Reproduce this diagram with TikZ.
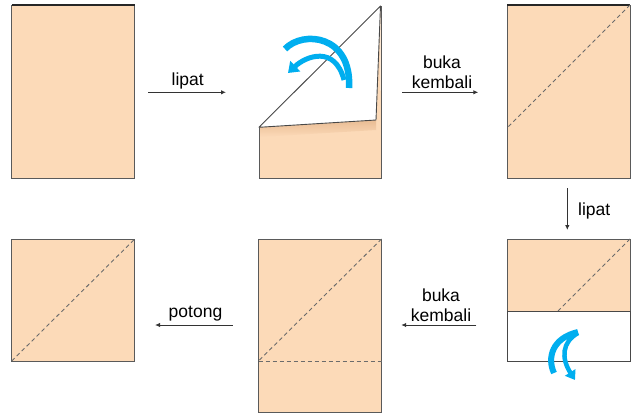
\documentclass[tikz,border=0pt]{standalone}
\usepackage{fontspec}
\setmainfont{Liberation Sans}
\usetikzlibrary{arrows.meta}
\definecolor{peach}{HTML}{FCDAB8}
\definecolor{edge}{HTML}{5A5A5A}
\definecolor{flow}{HTML}{00AEEF}
\definecolor{shadowc}{HTML}{E9BC94}
\definecolor{ink}{HTML}{333333}
\begin{document}
\begin{tikzpicture}[x=1pt,y=-1pt,
  paper/.style={draw=edge, fill=peach, line width=1pt, inner sep=0pt, outer sep=0pt, minimum width=123pt},
  tall/.style={minimum height=173pt},
  short/.style={minimum height=122pt},
  crease/.style={draw=edge!90, line width=0.9pt, dash pattern=on 4pt off 3pt},
  topedge/.style={draw=black!85, line width=1.3pt},
  stepline/.style={draw=ink, line width=1pt, -{Latex[length=5pt,width=4.5pt]}},
  lbl/.style={font=\fontsize{17.5}{20}\selectfont, anchor=base, inner sep=0pt, text=black},
  bluebody/.style={draw=flow, line cap=butt},
]
\useasboundingbox (0,0) rectangle (640,418);

% ---- top row ----
\node[paper, tall] (b1) at (73.25,91.5) {};
\draw[topedge] (b1.north west) -- (b1.north east);

% box 2 (folded corner)
\coordinate (t2) at (380.5,6);
\coordinate (l2) at (259,127.3);
\coordinate (c2) at (376,120);
\fill[peach] (l2) -- (c2) -- (t2) -- (381,178) -- (259,178) -- cycle;
\shade[top color=shadowc, bottom color=peach] (l2) -- (c2) -- (376,130) -- (259,137) -- cycle;
\draw[edge, line width=1pt] (l2) -- (259,178) -- (381,178) -- (381,6);
\fill[white] (l2) -- (t2) -- (c2) -- cycle;
\draw[edge!80!black, line width=0.9pt, line join=round] (l2) -- (t2) -- (c2) -- cycle;
\node[inner sep=0pt, minimum size=0pt] (b2) at (320,92) {};

\node[paper, tall] (b3) at (568.5,91.5) {};
\draw[topedge] (b3.north west) -- (b3.north east);
\draw[crease] (b3.north east) -- ([yshift=-123pt]b3.north west);

% blue arrows in box 2
\draw[bluebody, line width=6.5pt] (285,49) .. controls (303,30) and (352,35) .. (349,88);
\draw[bluebody, line width=5pt, -{Triangle[width=14pt,length=10pt]}] (344,80) .. controls (335,45) and (306,56) .. (288,73);

% ---- bottom row ----
\node[paper, short] (b4) at (73.25,300) {};
\draw[crease] (b4.south west) -- (b4.north east);

\node[paper, tall] (b5) at (320,325.5) {};
\coordinate (h5) at ([yshift=-122pt]b5.north west);
\draw[crease] (b5.north east) -- (h5);
\draw[crease] (h5) -- (h5 -| b5.east);

\node[paper, short] (b6) at (568.5,300) {};
\coordinate (f6) at (558,311);
\draw[crease] (b6.north east) -- (f6);
\draw[edge!80!black, fill=white, line width=1pt] (507,311) rectangle (630,361);

% blue arrows in box 6
\draw[bluebody, line width=6pt] (578,332) .. controls (552,338) and (547,358) .. (554,373);
\draw[bluebody, line width=4.5pt, -{Triangle[width=12pt,length=9pt]}] (578,333) .. controls (562,342) and (561,358) .. (575,380);

% ---- step arrows and labels ----
\coordinate (a1s) at (148.3,92.3); \coordinate (a1e) at (226,92.3);
\draw[stepline] (a1s) -- (a1e);
\node[lbl] (L1) at (187.7,85) {lipat};

\coordinate (a2s) at (402.3,92.3); \coordinate (a2e) at (478.3,92.3);
\draw[stepline] (a2s) -- (a2e);
\node[lbl] (L2a) at (442,68.3) {buka};
\node[lbl] (L2b) at (442,88.3) {kembali};

\coordinate (a3s) at (567.3,188); \coordinate (a3e) at (567.3,230);
\draw[stepline] (a3s) -- (a3e);
\node[lbl, anchor=base west] (L3) at (578,215) {lipat};

\coordinate (a4s) at (476.3,325); \coordinate (a4e) at (401.2,325);
\draw[stepline] (a4s) -- (a4e);
\node[lbl] (L4a) at (441,301.7) {buka};
\node[lbl] (L4b) at (441,321.7) {kembali};

\coordinate (a5s) at (232.7,325); \coordinate (a5e) at (155,325);
\draw[stepline] (a5s) -- (a5e);
\node[lbl] (L5) at (195.5,317.3) {potong};
\end{tikzpicture}
\end{document}
